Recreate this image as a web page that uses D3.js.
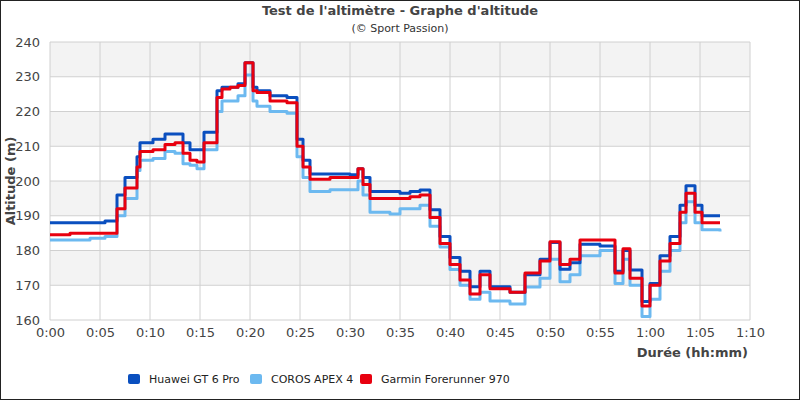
<!DOCTYPE html>
<html><head><meta charset="utf-8">
<script src="https://cdn.jsdelivr.net/npm/d3@7"></script>
<style>body{margin:0;background:#fff}svg{display:block;font-family:"DejaVu Sans",sans-serif}</style>
</head><body><svg id="chart" width="800" height="400"></svg>
<script>
// minutes
const times = [0,2,4,5.5,6.7,7.5,8.7,9,10.3,11.5,12.5,13.3,14,14.7,15.4,16.7,17.2,18,18.8,19.5,20.3,20.7,21.7,22,23.3,23.7,24.7,25.3,26,28,30,30.8,31.3,32,34,35,36,37,38,39,40,41,42,43,44,46,47.5,49,50,51,52,53,55,56.5,57.3,58,59.2,60,61,62,63,63.6,64.5,65.2,67];
const huawei = [188,188,188,188.5,196,201,207,211,212,213.5,213.5,211,209,209,214,226,227,227,228,234,227,226,226,224.5,224.5,224,212,206,202,202,201.8,203.5,201,197,197,196.5,197,197.4,191.7,184,178,174,169.6,174,169.6,168,173,177.5,182.3,174.6,176.5,181.8,181.3,174,180,174.4,165.3,170.5,178.5,184,193,198.6,193,190,190];
const coros = [183,183,183.5,184,190,195,203,206,206.5,208.5,208,205,204.5,203.5,209,220,223,223,224.5,230.5,223,221.5,221.5,220,220,219.5,207,201,197,197.5,197.5,200,196,191,190.5,192,192,193,187,181,174.5,170,166,168,165.5,164.6,169.5,172,177.5,171,173,178.5,180,170.5,177.5,170,161,166,174,180,188,194,188,186,185.5];
const garmin = [184.5,185,185,185,192,198,204,208.5,209,210.5,211,208,206,205.5,211,224,226.5,227,227.5,234,226,225.5,225.5,223,223,222.5,210,204,200.5,201,201,203.5,199,195,195,195,195.5,196,189.5,182,176,171.5,167.5,173,169,168,173.5,177,182.5,176,177.5,183,183,173.5,180.5,172,164,170,177,182,191,196.5,191,188,188];
const seriesNames = ["Huawei GT 6 Pro","COROS APEX 4","Garmin Forerunner 970"];
const seriesColors = ["#0a4fbf","#6cb9f0","#e8000f"];
const yTicks = [160,170,180,190,200,210,220,230,240];
const xTicks = [0,5,10,15,20,25,30,35,40,45,50,55,60,65,70];

const svg = d3.select("#chart");
svg.append("rect").attr("x",0.5).attr("y",0.5).attr("width",799).attr("height",399).attr("fill","#fff").attr("stroke","#222");
const x = d3.scaleLinear().domain([0,70]).range([50,750]);
const y = d3.scaleLinear().domain([160,240]).range([320,42]);

// bands
for (let i = 0; i < yTicks.length - 1; i++) {
  if (i % 2 === 1) svg.append("rect").attr("x",50).attr("width",700)
    .attr("y",y(yTicks[i+1])).attr("height",y(yTicks[i])-y(yTicks[i+1])).attr("fill","#f3f3f3");
}
const grid = svg.append("g").attr("stroke","#d0d0d0");
yTicks.forEach(v => grid.append("line").attr("x1",50).attr("x2",750).attr("y1",y(v)).attr("y2",y(v)));
xTicks.forEach(v => grid.append("line").attr("x1",x(v)).attr("x2",x(v)).attr("y1",42).attr("y2",320));

const fmt = m => Math.floor(m/60) + ":" + String(m%60).padStart(2,"0");
svg.append("g").attr("transform","translate(0,320)")
  .call(d3.axisBottom(x).tickValues(xTicks).tickFormat(fmt).tickSize(0).tickPadding(8))
  .call(g => g.select(".domain").remove())
  .selectAll("text").attr("font-size",13).attr("fill","#444").attr("font-family","DejaVu Sans");
svg.append("g").attr("transform","translate(50,0)")
  .call(d3.axisLeft(y).tickValues(yTicks).tickSize(0).tickPadding(10))
  .call(g => g.select(".domain").remove())
  .selectAll("text").attr("font-size",13).attr("fill","#444").attr("font-family","DejaVu Sans");

const line = d3.line().x((d,i) => x(times[i])).y(d => y(d)).curve(d3.curveStepAfter);
[[coros,1],[huawei,0],[garmin,2]].forEach(([vals,k]) => {
  svg.append("path").datum(vals).attr("d",line).attr("fill","none")
    .attr("stroke",seriesColors[k]).attr("stroke-width",3).attr("stroke-linejoin","round");
});

svg.append("text").attr("x",400).attr("y",15).attr("text-anchor","middle").attr("font-size",13)
  .attr("font-weight","bold").attr("fill","#444").text("Test de l'altimètre - Graphe d'altitude");
svg.append("text").attr("x",400).attr("y",32).attr("text-anchor","middle").attr("font-size",11)
  .attr("fill","#333").text("(© Sport Passion)");
svg.append("text").attr("transform","translate(15,181) rotate(-90)").attr("text-anchor","middle")
  .attr("font-size",13).attr("font-weight","bold").attr("fill","#444").text("Altitude (m)");
svg.append("text").attr("x",748).attr("y",357).attr("text-anchor","end").attr("font-size",13)
  .attr("font-weight","bold").attr("fill","#444").text("Durée (hh:mm)");

const legX = [128,250,360];
seriesNames.forEach((n,i) => {
  svg.append("rect").attr("x",legX[i]).attr("y",374).attr("width",12).attr("height",10).attr("rx",2)
    .attr("fill",seriesColors[i]);
  svg.append("text").attr("x",legX[i]+21).attr("y",383).attr("font-size",11).attr("fill","#222").text(n);
});
</script></body></html>
